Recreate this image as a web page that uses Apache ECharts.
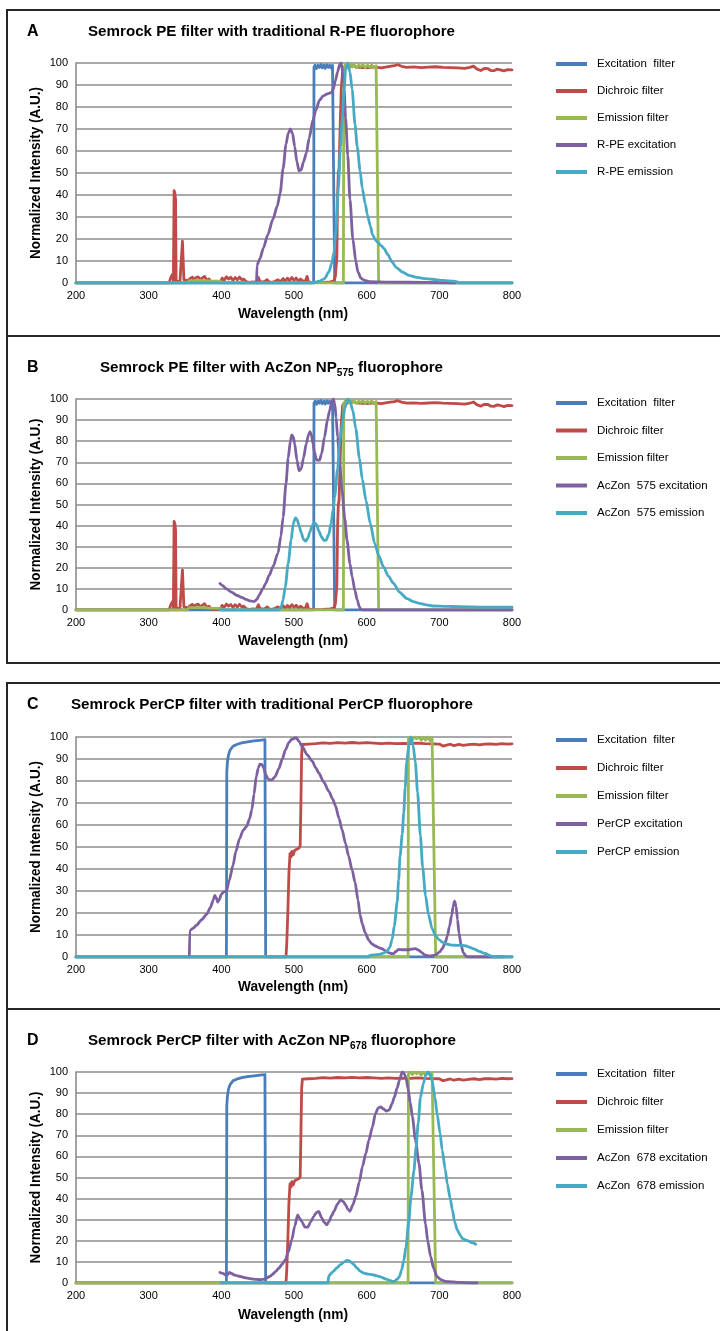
<!DOCTYPE html>
<html>
<head>
<meta charset="utf-8">
<script src="https://cdn.jsdelivr.net/npm/echarts@6/dist/echarts.min.js"></script>
<style>
  html, body { margin: 0; padding: 0; background: #fff; }
  #chart { width: 720px; height: 1331px; }
</style>
</head>
<body>
<div id="chart"></div>
<script>
// ---- Axis ticks -------------------------------------------------------
const WAVELENGTH_TICKS = [200, 300, 400, 500, 600, 700, 800];
const INTENSITY_TICKS = [0, 10, 20, 30, 40, 50, 60, 70, 80, 90, 100];

// ---- Semrock PE filter set (panels A and B): [wavelength nm, intensity] ----
const PE_EXCITATION_FILTER = [[200,0],[527,0],[527.5,98],[529,99],[531,97.5],[533,99],[535,98],[537,99.3],[539,97.8],[541,99],[543,97.6],[545,99.2],[547,98],[549,99],[551,97.7],[553,99],[555,98.5],[556,0],[800,0]];
const PE_DICHROIC_FILTER = [[200,0],[328,0],[329,1],[331,3],[333,4],[334,1],[335,42],[336,41],[337,38],[337.8,1],[340,0.5],[343,0.5],[345,1],[346.5,19],[347.5,19],[348.5,1.5],[351,2],[354,1],[357,2],[360,2.7],[362,1.5],[365,2.5],[368,2.8],[371,1.5],[374,2.3],[377,3],[380,1.2],[383,1.8],[386,0.5],[390,0.3],[395,0.2],[399,0.5],[401,2.2],[404,1.3],[407,2.8],[410,1.8],[413,2.6],[416,1.2],[419,2.5],[422,1.4],[425,2.7],[428,1.5],[431,1.8],[434,0.6],[438,0.3],[444,0.5],[448,0.3],[451,2.5],[453,0.8],[456,0.4],[460,0.7],[463,1.5],[466,0.5],[470,0.3],[474,0.8],[478,1.5],[481,0.5],[485,2],[488,0.8],[491,2.2],[494,1],[497,2.5],[500,1.2],[503,2.3],[506,0.8],[509,1.8],[512,1],[515,0.5],[518,3],[520,0.5],[523,0.3],[527,0.2],[540,0.3],[550,0.5],[555,1],[557,3],[559,12],[560,40],[561,50],[562,52],[563,65],[565,88],[567,97],[569,98],[575,98.2],[580,98.8],[590,98],[600,97.8],[610,98.2],[620,97.8],[630,98.4],[638,98.8],[643,99.2],[648,98.5],[655,98],[665,98.2],[675,97.9],[685,98.1],[695,98.3],[705,98],[715,97.9],[725,97.8],[735,97.6],[742,98],[747,98.6],[752,97.2],[757,96.6],[762,97.5],[767,97.4],[771,96.6],[775,96.5],[780,97.2],[785,96.8],[789,96.4],[794,97],[800,96.9]];
const PE_EMISSION_FILTER = [[200,0],[352,0],[356,1],[370,1.2],[385,0.9],[398,0.8],[403,0],[568,0],[568.5,98],[571,99.3],[574,98],[577,99.5],[580,98.2],[583,99.2],[586,97.8],[589,99],[592,98.4],[595,99.3],[598,97.9],[601,99],[604,98.2],[607,99.1],[610,97.8],[613,98.8],[615.5,98],[616.5,0],[800,0]];

// ---- Panel A: traditional R-PE ----------------------------------------
const RPE_EXCITATION = [[448.5,0],[449,8],[453,11],[458,16],[464,22],[471,29],[477,35],[481,41],[485,52],[489,63],[492,68],[495,70],[498,68],[501,62],[504,55],[507,51],[510,51.5],[513,55],[517,59],[521,66],[526,74],[530,78.5],[535,83],[540,85],[546,86],[551,86.5],[554,88],[557,92],[560,96],[563,99.5],[565,100],[567,96],[569,88],[571,75],[574,58],[577,38],[581,20],[585,10],[588,5],[592,2.2],[597,1.2],[605,0.6],[630,0.4],[680,0.3],[722,0]];
const RPE_EMISSION = [[200,0],[525,0],[535,0.8],[542,2],[548,5],[552,9],[555,14],[558,25],[561,43],[564,62],[566,73],[569,88],[571,97],[574,100],[577,96],[580,88],[584,72],[587,62],[591,51],[594,43],[598,36],[601,31],[605,26],[608,22],[612,19.5],[615,18.6],[620,17],[624,15.6],[629,13],[635,9.5],[641,7],[649,5],[658,3.5],[667,2.7],[680,2],[690,1.7],[705,1.2],[720,0.8],[725,0.5],[727,0],[800,0]];

// ---- Panel B: AcZon NP575 ----------------------------------------------
const NP575_EXCITATION = [[398,12.6],[402,11.5],[407,10],[414,8.5],[421,7],[428,6],[434,5],[440,4.3],[445,4],[449,5],[452,7],[457,10],[461,12.6],[466,16.5],[471,20.5],[478,27],[482,35],[485,44],[489,60],[492,72],[495,80],[497,83],[499,82],[501,78.7],[504,71],[507,66],[510,67],[513,72],[517,79],[520,83],[522,84.5],[524,83],[526,79],[528,75],[531,71],[535,71],[538,74],[542,82],[546,90],[549,94.5],[552,98.5],[554,100],[556,98],[558,91],[560,82],[563,69],[566,56.7],[570,43],[573,33],[577,22],[580,15.7],[584,9],[587,4.7],[590,1.5],[592,0.3],[595,0],[800,0]];
const NP575_EMISSION = [[398,0],[478,0],[482,1],[485,4.7],[488,11],[492,22],[496,33],[499,41],[502,43.7],[504,43],[507,40],[510,36.5],[513,33.5],[516,32.6],[519,34],[522,37],[525,40],[528,41.5],[531,40.5],[534,37.5],[538,34.6],[541,33],[544,33],[548,36],[551,41],[554,48],[556,53.5],[560,67],[563,80],[567,90],[570,95.7],[574,100],[577,99],[581,94.5],[585,86],[590,72],[594,62],[599,52],[605,41],[611,31.5],[617,25.5],[623,20.5],[630,16],[637,12.6],[645,8.5],[655,5.5],[664,4],[673,3.1],[682,2.4],[691,1.9],[710,1.7],[728,1.6],[760,1.4],[800,1.3]];

// ---- Semrock PerCP filter set (panels C and D) --------------------------
const PERCP_EXCITATION_FILTER = [[200,0],[407,0],[407.5,84],[408.5,89],[410,92],[412,94],[416,95.8],[421,96.6],[428,97.3],[436,97.8],[445,98.2],[453,98.5],[460,98.8],[461,0],[800,0]];
const PERCP_DICHROIC_FILTER = [[200,0],[489,0],[490,6],[491.5,20],[493,38],[494.5,47],[496,45.5],[497,48],[499,46.5],[501,48.5],[504,49],[507,49.5],[508.5,50.5],[509.5,70],[510.5,92],[511.5,96.6],[520,96.8],[530,97],[540,97.3],[550,97.1],[560,97.4],[570,97.2],[580,97.5],[590,97.2],[600,97.4],[610,97.2],[620,97],[630,97.2],[640,97],[650,97.1],[660,97],[670,97.2],[680,97],[690,96.9],[700,96.8],[705,95.9],[710,96.3],[715,96.7],[720,96.1],[727,96.6],[733,96.2],[740,96.5],[748,96.8],[755,96.4],[762,96.8],[770,96.9],[778,96.6],[786,97],[793,96.8],[800,96.9]];
const PERCP_EMISSION_FILTER = [[200,0],[657,0],[657.5,99],[660,100],[663,98.8],[666,100],[669,99.2],[672,100],[675,98.5],[678,99.8],[681,98.6],[684,100],[687,98.4],[690,99.6],[692,99],[695,0],[800,0]];

// ---- Panel C: traditional PerCP -----------------------------------------
const PERCP_EXCITATION = [[356,0],[356.5,12],[361,13],[366,14.5],[373,17],[380,19.5],[385,22.5],[389,26],[391,28],[393,27],[395,25],[397,26],[400,28.5],[403,29.5],[407,30],[411,35],[416,41.6],[420,48],[425,53.7],[430,57.5],[435,59.5],[439,63],[442,67],[445,74],[448,82],[451,86],[453,87.7],[456,87.5],[458,86],[461,83],[464,81],[467,80.5],[470,80.6],[474,82],[479,85.5],[484,90],[488,94],[493,97.5],[497,99],[503,99.7],[507,98],[511,95.8],[518,92],[525,89],[530,86],[534,83.7],[541,79.5],[548,75.3],[553,72],[557,68.8],[562,63],[566,58],[571,51.5],[575,46],[580,39.5],[584,34],[588,26],[591,19],[594,15],[598,11],[603,7.6],[607,6],[612,5],[617,4.2],[621,3.8],[626,2.8],[630,2],[634,1.6],[637,1.5],[640,2.5],[644,3.5],[650,3.3],[658,3.3],[662,3.6],[667,3.8],[671,3.2],[676,2],[680,1],[685,0.5],[690,0.6],[695,1],[700,2.2],[704,3.8],[708,6.5],[711,9.5],[714,14],[717,19],[719,23],[721,25.4],[723,23],[725,17],[727,11],[730,5.3],[733,2],[737,0.3],[741,0],[790,0]];
const PERCP_EMISSION = [[200,0],[603,0],[604,0.7],[610,0.9],[617,1.2],[623,1.8],[628,2.7],[632,4.5],[635,8],[638,14],[642,25],[644,35],[646,46],[649,56],[651,65.5],[653,77],[655,88.5],[658,96],[661,100],[664,96],[667,88.5],[670,75],[674,55],[677,41],[681,28],[685,19.5],[690,12.9],[695,9.5],[700,7.8],[704,6.8],[710,5.9],[718,5.4],[725,5.3],[732,5.3],[737,5],[741,4.5],[748,3.6],[755,2.6],[763,1.6],[771,0.5],[776,0],[800,0]];

// ---- Panel D: AcZon NP678 ----------------------------------------------
const NP678_EXCITATION = [[398,5],[402,4.6],[405,4],[408,3.8],[411,5],[414,4.5],[418,3.8],[421,3.5],[427,3],[434,2.4],[441,2],[448,1.7],[454,1.6],[459,1.8],[463,2.5],[467,3.2],[470,4],[475,5.5],[479,7],[484,9],[488,11],[492,14.5],[497,20.5],[501,27],[505,32.3],[508,30.5],[511,29],[515,26.5],[519,26.5],[523,29],[527,31.5],[531,33.5],[534,33.9],[538,31],[541,29],[545,27.6],[548,29],[552,32],[555,34],[560,37.5],[564,39.4],[568,38.5],[571,37],[574,35],[577,34],[581,37],[585,41],[590,48],[594,55],[599,61.5],[603,67.7],[608,74],[612,80.3],[616,83],[619,83.5],[623,82.5],[627,81.5],[631,82],[635,85],[638,88],[642,92.5],[645,96],[649,100],[651,99.5],[654,97.6],[657,92],[660,85.5],[663,78.7],[667,68],[672,56.7],[676,44],[681,28],[684,20],[688,12.6],[692,7],[697,3],[702,1.6],[708,0.8],[718,0.5],[727,0.3],[740,0.1],[752,0]];
const NP678_EMISSION = [[400,0],[547,0],[547.5,3],[551,4.5],[554,5.5],[559,7.2],[564,8.7],[569,10],[573,10.7],[576,10.5],[578,10],[582,8.8],[587,7],[591,5.6],[596,4.7],[602,4.2],[608,4],[613,3.5],[617,3.1],[622,2.5],[627,1.8],[631,1.3],[635,0.8],[638,0.8],[642,1.8],[645,3],[648,6],[651,10.5],[654,17],[658,29],[661,41],[665,53],[668,64.6],[671,76],[674,88],[678,94.5],[681,98.4],[685,100],[688,98.5],[690,96],[694,88],[697,80],[701,71],[704,63],[708,54],[711,47],[715,40],[718,34.6],[721,29],[725,25],[729,22.5],[732,21],[737,20.3],[741,19.7],[746,19],[750,18.4]];

// ---- Series names -------------------------------------------------------
const FILTER_NAMES = ['Excitation  filter', 'Dichroic filter', 'Emission filter'];
const DYE_NAMES_A = ['R-PE excitation', 'R-PE emission'];
const DYE_NAMES_B = ['AcZon  575 excitation', 'AcZon  575 emission'];
const DYE_NAMES_C = ['PerCP excitation', 'PerCP emission'];
const DYE_NAMES_D = ['AcZon  678 excitation', 'AcZon  678 emission'];

// ---- Styling ------------------------------------------------------------
const COLORS = ['#4A7EBB', '#BE4B48', '#98B954', '#7D60A0', '#46AAC5'];
const FONT = '"Liberation Sans", Arial, Helvetica, sans-serif';
const GRID_COLOR = '#8c8c8c';

const panels = [
  {
    letter: 'A', titleY: 32, titleLeft: 88, titleWidth: 367,
    title: [{ text: 'Semrock PE filter with traditional R-PE fluorophore' }],
    top: 63, height: 220, xTitleY: 314, legendTop: 52, legendGap: 13,
    frame: [10, 336],
    names: FILTER_NAMES.concat(DYE_NAMES_A),
    data: [PE_EXCITATION_FILTER, PE_DICHROIC_FILTER, PE_EMISSION_FILTER, RPE_EXCITATION, RPE_EMISSION]
  },
  {
    letter: 'B', titleY: 368, titleLeft: 100, titleWidth: 343,
    title: [{ text: 'Semrock PE filter with AcZon NP' }, { text: '575', sub: true }, { text: ' fluorophore' }],
    top: 399, height: 211, xTitleY: 641, legendTop: 391, legendGap: 13.5,
    frame: [336, 663],
    names: FILTER_NAMES.concat(DYE_NAMES_B),
    data: [PE_EXCITATION_FILTER, PE_DICHROIC_FILTER, PE_EMISSION_FILTER, NP575_EXCITATION, NP575_EMISSION]
  },
  {
    letter: 'C', titleY: 705, titleLeft: 71, titleWidth: 402,
    title: [{ text: 'Semrock PerCP filter with traditional PerCP fluorophore' }],
    top: 737, height: 220, xTitleY: 987, legendTop: 728, legendGap: 14,
    frame: [683, 1009],
    names: FILTER_NAMES.concat(DYE_NAMES_C),
    data: [PERCP_EXCITATION_FILTER, PERCP_DICHROIC_FILTER, PERCP_EMISSION_FILTER, PERCP_EXCITATION, PERCP_EMISSION]
  },
  {
    letter: 'D', titleY: 1041, titleLeft: 88, titleWidth: 368,
    title: [{ text: 'Semrock PerCP filter with AcZon NP' }, { text: '678', sub: true }, { text: ' fluorophore' }],
    top: 1072, height: 211, xTitleY: 1315, legendTop: 1062, legendGap: 14,
    frame: [1009, 1345],
    names: FILTER_NAMES.concat(DYE_NAMES_D),
    data: [PERCP_EXCITATION_FILTER, PERCP_DICHROIC_FILTER, PERCP_EMISSION_FILTER, NP678_EXCITATION, NP678_EMISSION]
  }
];

// ---- Text helpers (condensed bold headings) ----------------------------
const measureCtx = document.createElement('canvas').getContext('2d');
function measure(text, font) { measureCtx.font = font; return measureCtx.measureText(text).width; }

const TITLE_FONT = 'bold 15px ' + FONT;
const SUB_FONT = 'bold 10px ' + FONT;
const AXIS_TITLE_FONT = 'bold 14px ' + FONT;

function headingTexts(parts, left, cy, targetWidth) {
  const fonts = parts.map(p => p.sub ? SUB_FONT : TITLE_FONT);
  const widths = parts.map((p, i) => measure(p.text, fonts[i]));
  const k = targetWidth / widths.reduce((a, b) => a + b, 0);
  let x = left;
  return parts.map((p, i) => {
    const el = {
      type: 'text', x: x, y: cy + (p.sub ? 5 : 0), scaleX: k, silent: true,
      style: { text: p.text, font: fonts[i], fill: '#000', align: 'left', verticalAlign: 'middle' }
    };
    x += widths[i] * k;
    return el;
  });
}

function fittedText(text, font, cx, cy, length, rotation) {
  const k = length / measure(text, font);
  return {
    type: 'text', x: cx, y: cy, rotation: rotation || 0, scaleX: k, silent: true,
    style: { text: text, font: font, fill: '#000', align: 'center', verticalAlign: 'middle' }
  };
}

// ---- Build option -------------------------------------------------------
const PLOT_LEFT = 76, PLOT_WIDTH = 436;
const grids = [], xAxes = [], yAxes = [], legends = [], series = [], graphics = [];

panels.forEach((p, i) => {
  grids.push({ left: PLOT_LEFT, top: p.top, width: PLOT_WIDTH, height: p.height, containLabel: false });
  xAxes.push({
    type: 'value', gridIndex: i,
    min: WAVELENGTH_TICKS[0], max: WAVELENGTH_TICKS[WAVELENGTH_TICKS.length - 1],
    interval: WAVELENGTH_TICKS[1] - WAVELENGTH_TICKS[0],
    axisLine: { show: true, lineStyle: { color: GRID_COLOR, width: 1.6 } },
    axisTick: { show: false },
    splitLine: { show: false },
    axisLabel: { fontFamily: FONT, fontSize: 11, color: '#000', margin: 7 }
  });
  yAxes.push({
    type: 'value', gridIndex: i,
    min: INTENSITY_TICKS[0], max: INTENSITY_TICKS[INTENSITY_TICKS.length - 1],
    interval: INTENSITY_TICKS[1] - INTENSITY_TICKS[0],
    axisLine: { show: true, lineStyle: { color: GRID_COLOR, width: 1.6 } },
    axisTick: { show: false },
    splitLine: { show: true, lineStyle: { color: GRID_COLOR, width: 1.7 } },
    axisLabel: { fontFamily: FONT, fontSize: 11, color: '#000', margin: 8 }
  });
  legends.push({
    orient: 'vertical', left: 551, top: p.legendTop,
    itemWidth: 31, itemHeight: 4, itemGap: p.legendGap, icon: 'rect',
    selectedMode: false,
    data: p.names,
    textStyle: { fontFamily: FONT, fontSize: 11.5, color: '#000', lineHeight: 14, padding: [0, 0, 0, 5] }
  });
  p.names.forEach((name, j) => {
    const isDye = j >= 3;
    series.push({
      type: 'line', name: name, xAxisIndex: i, yAxisIndex: i,
      data: p.data[j], showSymbol: false, symbol: 'none',
      smooth: isDye ? 0.25 : false, smoothMonotone: 'x',
      color: COLORS[j],
      lineStyle: { color: COLORS[j], width: 2.8, cap: 'round', join: 'round' },
      emphasis: { disabled: true }, animation: false, z: 2
    });
  });

  // panel frame
  graphics.push({
    type: 'rect', silent: true, z: -1,
    shape: { x: 7, y: p.frame[0], width: 730, height: p.frame[1] - p.frame[0] },
    style: { fill: null, stroke: '#262626', lineWidth: 2 }
  });
  // panel letter and heading
  graphics.push({
    type: 'text', x: 27, y: p.titleY, silent: true,
    style: { text: p.letter, font: 'bold 16px ' + FONT, fill: '#000', align: 'left', verticalAlign: 'middle' }
  });
  headingTexts(p.title, p.titleLeft, p.titleY, p.titleWidth).forEach(t => graphics.push(t));
  // axis titles
  graphics.push(fittedText('Wavelength (nm)', AXIS_TITLE_FONT, 293, p.xTitleY, 110));
  graphics.push(fittedText('Normalized Intensity (A.U.)', AXIS_TITLE_FONT, 36, p.top + p.height / 2, 172, Math.PI / 2));
});

const chart = echarts.init(document.getElementById('chart'), null, { renderer: 'canvas' });
chart.setOption({
  animation: false,
  backgroundColor: '#fff',
  grid: grids,
  xAxis: xAxes,
  yAxis: yAxes,
  legend: legends,
  series: series,
  graphic: { elements: graphics }
});
</script>
</body>
</html>
